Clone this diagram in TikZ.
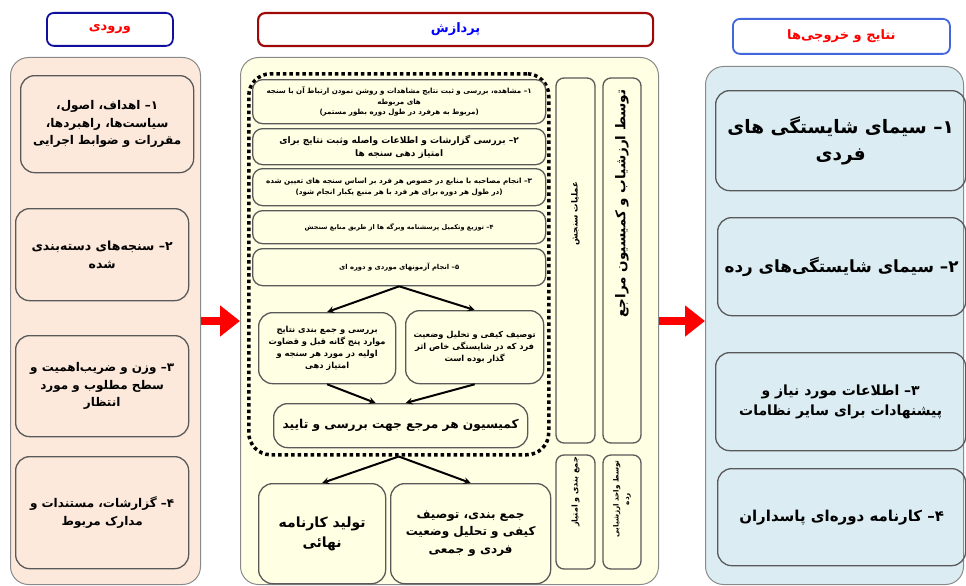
\documentclass[tikz,border=0pt]{standalone}
\usepackage{fontspec}
\newfontfamily\farsi[Script=Arabic]{DejaVu Sans}
\TeXXeTstate=1
\newcommand{\fa}[1]{\beginR #1\endR}
\newcommand{\fsz}[1]{\fontsize{#1}{\fpeval{1.45*#1}}\selectfont}
\usetikzlibrary{arrows.meta}

\definecolor{infill}{HTML}{FCE9DB}
\definecolor{procfill}{HTML}{FFFFE3}
\definecolor{outfill}{HTML}{DBEDF3}
\definecolor{headblue}{HTML}{10109E}
\definecolor{headsky}{HTML}{4466DD}
\definecolor{headred}{HTML}{A00808}
\definecolor{panelgray}{HTML}{8A8A8A}

\tikzset{
  panel/.style={draw=panelgray, line width=1pt, rounded corners=18pt, anchor=north west, inner sep=0pt},
  header/.style={fill=white, rounded corners=7pt, line width=1.8pt, anchor=north west, inner sep=0pt,
    font=\farsi\bfseries\fsz{13}},
  item/.style={draw=black!65, line width=1.3pt, rounded corners=14pt, anchor=north west,
    inner sep=2pt, align=center, font=\farsi\bfseries},
  stepbox/.style={item, rounded corners=10pt, minimum width=293pt},
  vbox/.style={item, rounded corners=8pt, rotate=90, anchor=center},
  flow/.style={->, line width=2pt},
  bigarrow/.style={-{Triangle[length=20pt,width=30pt]}, line width=8pt, red},
}

\begin{document}
\begin{tikzpicture}[x=1pt, y=-1pt, >=stealth]
  \useasboundingbox (0,0) rectangle (966,586);

  % headers
  \node[header, draw=headblue, minimum width=126, minimum height=33, text=red] (hin) at (46,12) {\fa{ورودی}};
  \node[header, draw=headred, line width=2.2pt, minimum width=395, minimum height=33, text=blue] (hproc) at (257,12) {\fa{پردازش}};
  \node[header, draw=headsky, minimum width=217, minimum height=35, text=red] (hout) at (732,18) {\fa{نتایج و خروجی‌ها}};

  % panels
  \node[panel, fill=infill, minimum width=190, minimum height=527] (inpanel) at (10,57) {};
  \node[panel, fill=procfill, minimum width=418, minimum height=527] (procpanel) at (240,57) {};
  \node[panel, fill=outfill, minimum width=258, minimum height=518] (outpanel) at (705,66) {};

  % inputs
  \node[item, minimum width=173, minimum height=97, font=\farsi\bfseries\fsz{12}] (in1) at (20,75)
    {\fa{۱– اهداف، اصول،}\\\fa{سیاست‌ها، راهبردها،}\\\fa{مقررات و ضوابط اجرایی}};
  \node[item, minimum width=173, minimum height=92, font=\farsi\bfseries\fsz{12.5}] (in2) at (15,208)
    {\fa{۲– سنجه‌های دسته‌بندی}\\\fa{شده}};
  \node[item, minimum width=173, minimum height=101, font=\farsi\bfseries\fsz{12}] (in3) at (15,335)
    {\fa{۳– وزن و ضریب‌اهمیت و}\\\fa{سطح مطلوب و مورد}\\\fa{انتظار}};
  \node[item, minimum width=173, minimum height=112, font=\farsi\bfseries\fsz{12}] (in4) at (15,456)
    {\fa{۴– گزارشات، مستندات و}\\\fa{مدارک مربوط}};

  % processing
  \node[draw, line width=3.5pt, dash pattern=on 3.5pt off 3pt, rounded corners=22pt, anchor=north west,
    minimum width=300, minimum height=381, inner sep=0pt] (ring) at (247,72) {};
  \node[stepbox, minimum height=44, font=\farsi\bfseries\fsz{7.1}] (p1) at (252,79)
    {\fa{۱– مشاهده، بررسی و ثبت نتایج مشاهدات و روشن نمودن ارتباط آن با سنجه}\\\fa{های مربوطه}\\\fa{(مربوط به هرفرد در طول دوره بطور مستمر)}};
  \node[stepbox, minimum height=36, font=\farsi\bfseries\fsz{9}] (p2) at (252,128)
    {\fa{۲– بررسی گزارشات و اطلاعات واصله وثبت نتایج برای}\\\fa{امتیاز دهی سنجه ها}};
  \node[stepbox, minimum height=37, font=\farsi\bfseries\fsz{7.2}] (p3) at (252,168)
    {\fa{۳– انجام مصاحبه با منابع در خصوص هر فرد بر اساس سنجه های تعیین شده}\\\fa{(در طول هر دوره برای هر فرد با هر منبع یکبار انجام شود)}};
  \node[stepbox, minimum height=33, font=\farsi\bfseries\fsz{6.5}] (p4) at (252,210)
    {\fa{۴– توزیع وتکمیل پرسشنامه وبرگه ها از طریق منابع سنجش}};
  \node[stepbox, minimum height=37, font=\farsi\bfseries\fsz{6.8}] (p5) at (252,248)
    {\fa{۵– انجام آزمونهای موردی  و دوره ای}};
  \node[item, minimum width=137, minimum height=71, font=\farsi\bfseries\fsz{8.3}] (subL) at (258,312)
    {\fa{بررسی و جمع بندی نتایج}\\\fa{موارد پنج گانه قبل و قضاوت}\\\fa{اولیه در مورد هر سنجه و}\\\fa{امتیاز دهی}};
  \node[item, minimum width=138, minimum height=73, font=\farsi\bfseries\fsz{8.3}] (subR) at (405,310)
    {\fa{توصیف کیفی و تحلیل وضعیت}\\\fa{فرد که در شایستگی خاص اثر}\\\fa{گذار بوده است}};
  \node[item, minimum width=254, minimum height=44, font=\farsi\bfseries\fsz{12.2}] (comm) at (273,403)
    {\fa{کمیسیون هر مرجع جهت بررسی و تایید}};
  \node[item, minimum width=127, minimum height=100, font=\farsi\bfseries\fsz{14}] (final) at (258,483)
    {\fa{تولید کارنامه}\\\fa{نهائی}};
  \node[item, minimum width=160, minimum height=100, font=\farsi\bfseries\fsz{12}] (summary) at (390,483)
    {\fa{جمع بندی، توصیف}\\\fa{کیفی و تحلیل وضعیت}\\\fa{فردی و جمعی}};

  % side labels, text pushed towards the top
  \node[vbox, minimum width=365, minimum height=39, font=\farsi\bfseries\fsz{8.5}] (ops) at (575.5,260.5)
    {\hspace*{94pt}\fa{عملیات سنجش}};
  \node[vbox, minimum width=365, minimum height=38, font=\farsi\bfseries\fsz{13.5}] (evals) at (622,260.5)
    {\hspace*{114pt}\fa{توسط ارزشیاب و کمیسیون مراجع}};
  \node[vbox, minimum width=114, minimum height=39, font=\farsi\bfseries\fsz{8}] (scoring) at (575.5,512)
    {\hspace*{40pt}\fa{جمع بندی و امتیاز}};
  \node[vbox, minimum width=114, minimum height=38, font=\farsi\bfseries\fsz{7.2}] (unit) at (622,512)
    {\hspace*{26pt}\fa{توسط واحد ارزشیابی}\\\hspace*{26pt}\fa{رده}};

  % outputs
  \node[item, minimum width=250, minimum height=100, font=\farsi\bfseries\fsz{18.5}] (out1) at (715,90)
    {\fa{۱– سیمای شایستگی های}\\\fa{فردی}};
  \node[item, minimum width=248, minimum height=98, font=\farsi\bfseries\fsz{16.8}] (out2) at (717,217)
    {\fa{۲– سیمای شایستگی‌های رده}};
  \node[item, minimum width=250, minimum height=98, font=\farsi\bfseries\fsz{14}] (out3) at (715,352)
    {\fa{۳– اطلاعات مورد نیاز و}\\\fa{پیشنهادات برای سایر نظامات}};
  \node[item, minimum width=248, minimum height=97, font=\farsi\bfseries\fsz{15}] (out4) at (717,468)
    {\fa{۴– کارنامه دوره‌ای پاسداران}};

  % connectors
  \draw[flow] (p5.south) -- (subL.north);
  \draw[flow] (p5.south) -- (subR.north);
  \draw[flow] (subL.south) -- ([xshift=-25pt]comm.north);
  \draw[flow] (subR.south) -- ([xshift=5pt]comm.north);
  \draw[flow] (ring.south) -- (final.north);
  \draw[flow] (ring.south) -- (summary.north);
  \draw[bigarrow] (inpanel.east) -- (procpanel.west);
  \draw[bigarrow] (procpanel.east) -- (procpanel.east -| outpanel.west);
\end{tikzpicture}
\end{document}
